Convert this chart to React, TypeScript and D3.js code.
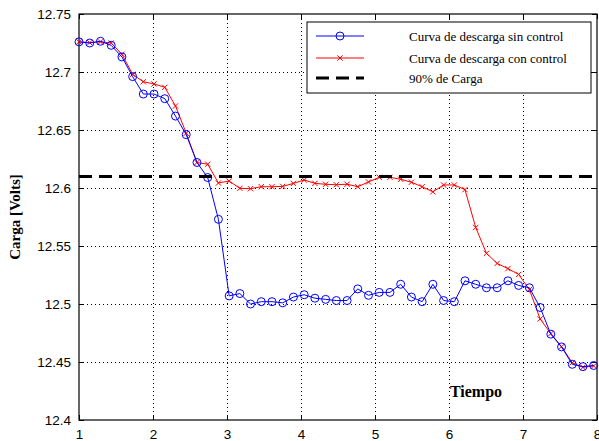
import React, { useEffect, useRef } from 'react';
import * as d3 from 'd3';

// tiempo de cada muestra
const tiempo = [
  1.0, 1.145, 1.29, 1.435, 1.58, 1.725, 1.869, 2.014, 2.159, 2.304,
  2.449, 2.594, 2.739, 2.884, 3.029, 3.174, 3.318, 3.463, 3.608, 3.753,
  3.898, 4.043, 4.188, 4.333, 4.478, 4.623, 4.767, 4.912, 5.057, 5.202,
  5.347, 5.492, 5.637, 5.782, 5.927, 6.072, 6.216, 6.361, 6.506, 6.651,
  6.796, 6.941, 7.086, 7.231, 7.376, 7.521, 7.666, 7.81, 7.955,
];

const sinControl = [
  12.726, 12.725, 12.7265, 12.723, 12.713, 12.696, 12.681, 12.681, 12.677, 12.662,
  12.646, 12.622, 12.609, 12.573, 12.507, 12.509, 12.5, 12.502, 12.502, 12.501,
  12.506, 12.508, 12.505, 12.504, 12.503, 12.503, 12.513, 12.5075, 12.51, 12.51,
  12.517, 12.506, 12.502, 12.517, 12.503, 12.502, 12.52, 12.517, 12.514, 12.514,
  12.52, 12.516, 12.514, 12.497, 12.474, 12.463, 12.448, 12.446, 12.447,
];

const conControl = [
  12.726, 12.7253, 12.726, 12.725, 12.7153, 12.698, 12.6916, 12.6897, 12.6868, 12.6707,
  12.6472, 12.622, 12.6205, 12.6043, 12.606, 12.5997, 12.5994, 12.6011, 12.6011, 12.6014,
  12.604, 12.6069, 12.604, 12.6032, 12.6028, 12.6033, 12.6011, 12.6052, 12.6092, 12.6092,
  12.6075, 12.605, 12.6011, 12.5967, 12.6026, 12.6026, 12.5986, 12.566, 12.5437, 12.535,
  12.5305, 12.5255, 12.5125, 12.4872, 12.4745, 12.4632, 12.4494, 12.4454, 12.4466,
];

const carga90 = 12.61;

const xTicks = [1, 2, 3, 4, 5, 6, 7, 8];
const yTicks = [12.4, 12.45, 12.5, 12.55, 12.6, 12.65, 12.7, 12.75];

const leyenda = [
  'Curva de descarga sin control',
  'Curva de descarga con control',
  '90% de Carga',
];

function App() {
  const ref = useRef<SVGSVGElement>(null);

  useEffect(() => {
    const width = 599;
    const height = 441;
    const margin = { top: 14, right: 2, bottom: 21, left: 79 };

    const x = d3.scaleLinear().domain([1, 8]).range([margin.left, width - margin.right]);
    const y = d3.scaleLinear().domain([12.4, 12.75]).range([height - margin.bottom, margin.top]);

    const svg = d3.select(ref.current);
    svg.selectAll('*').remove();

    svg.append('rect').attr('width', width).attr('height', height).attr('fill', '#fff');

    const [x0, x1] = x.range();
    const [y0, y1] = y.range();

    // rejilla punteada
    const grid = svg.append('g').attr('stroke', '#000').attr('stroke-width', 1).attr('stroke-dasharray', '1,3');
    grid.selectAll('line.gx')
      .data(xTicks.slice(1, -1))
      .join('line')
      .attr('x1', (d) => Math.round(x(d)) + 0.5).attr('x2', (d) => Math.round(x(d)) + 0.5)
      .attr('y1', y0).attr('y2', y1);
    grid.selectAll('line.gy')
      .data(yTicks.slice(1, -1))
      .join('line')
      .attr('class', 'gy')
      .attr('y1', (d) => Math.round(y(d)) + 0.5).attr('y2', (d) => Math.round(y(d)) + 0.5)
      .attr('x1', x0).attr('x2', x1);

    // ejes estilo matlab: ticks hacia adentro en los cuatro lados
    const fuenteEjes = (g: any) =>
      g.attr('font-family', 'Arial, "Liberation Sans", sans-serif').attr('font-size', 13.5);

    const axes = svg.append('g');
    axes.append('g')
      .attr('transform', `translate(0,${y0})`)
      .call(d3.axisBottom(x).tickValues(xTicks).tickFormat(d3.format('d')).tickSizeInner(-5).tickSizeOuter(0).tickPadding(9))
      .call(fuenteEjes)
      .call((g) => g.select('.domain').remove());
    axes.append('g')
      .attr('transform', `translate(0,${y1})`)
      .call(d3.axisTop(x).tickValues(xTicks).tickFormat(() => '').tickSizeInner(-5).tickSizeOuter(0))
      .call((g) => g.select('.domain').remove());
    axes.append('g')
      .attr('transform', `translate(${x0},0)`)
      .call(d3.axisLeft(y).tickValues(yTicks).tickFormat((d) => String(+d)).tickSizeInner(-5).tickSizeOuter(0).tickPadding(8))
      .call(fuenteEjes)
      .call((g) => g.select('.domain').remove());
    axes.append('g')
      .attr('transform', `translate(${x1},0)`)
      .call(d3.axisRight(y).tickValues(yTicks).tickFormat(() => '').tickSizeInner(-5).tickSizeOuter(0))
      .call((g) => g.select('.domain').remove());
    axes.selectAll('text').attr('fill', '#000');
    axes.selectAll('line').attr('stroke', '#000');

    svg.append('rect')
      .attr('x', x0).attr('y', y1)
      .attr('width', x1 - x0).attr('height', y0 - y1)
      .attr('fill', 'none').attr('stroke', '#000').attr('stroke-width', 1.2);

    const line = d3.line<number>().x((_, i) => x(tiempo[i])).y((d) => y(d));

    // curva con control (roja)
    svg.append('path')
      .datum(conControl)
      .attr('d', line)
      .attr('fill', 'none').attr('stroke', '#ff0000').attr('stroke-width', 1);
    const cruz = d3.symbol(d3.symbolX, 20);
    svg.append('g')
      .selectAll('path')
      .data(conControl)
      .join('path')
      .attr('transform', (d, i) => `translate(${x(tiempo[i])},${y(d)})`)
      .attr('d', cruz)
      .attr('fill', 'none').attr('stroke', '#ff0000').attr('stroke-width', 1);

    // curva sin control (azul)
    svg.append('path')
      .datum(sinControl)
      .attr('d', line)
      .attr('fill', 'none').attr('stroke', '#0000ff').attr('stroke-width', 1);
    svg.append('g')
      .selectAll('circle')
      .data(sinControl)
      .join('circle')
      .attr('cx', (d, i) => x(tiempo[i]))
      .attr('cy', (d) => y(d))
      .attr('r', 4)
      .attr('fill', 'none').attr('stroke', '#0000ff').attr('stroke-width', 1);

    // 90% de carga
    svg.append('line')
      .attr('x1', x0).attr('x2', x1)
      .attr('y1', y(carga90)).attr('y2', y(carga90))
      .attr('stroke', '#000').attr('stroke-width', 3).attr('stroke-dasharray', '13,7');

    // leyenda
    const lg = svg.append('g').attr('transform', 'translate(307,22)');
    lg.append('rect').attr('width', 284).attr('height', 71).attr('fill', '#fff').attr('stroke', '#000').attr('stroke-width', 1);
    const rowY = [14, 36, 56];
    const estilos = [
      { color: '#0000ff', width: 1, dash: null },
      { color: '#ff0000', width: 1, dash: null },
      { color: '#000', width: 3, dash: '13,7' },
    ];
    leyenda.forEach((t, i) => {
      const s = estilos[i];
      lg.append('line')
        .attr('x1', 9).attr('x2', 57).attr('y1', rowY[i]).attr('y2', rowY[i])
        .attr('stroke', s.color).attr('stroke-width', s.width)
        .attr('stroke-dasharray', s.dash);
      lg.append('text')
        .attr('x', 102).attr('y', rowY[i] + 4.5)
        .attr('font-family', '"Liberation Serif", "Times New Roman", serif')
        .attr('font-size', 13)
        .text(t);
    });
    lg.append('circle').attr('cx', 33).attr('cy', rowY[0]).attr('r', 4)
      .attr('fill', 'none').attr('stroke', '#0000ff');
    lg.append('path').attr('transform', `translate(33,${rowY[1]})`).attr('d', cruz)
      .attr('fill', 'none').attr('stroke', '#ff0000');

    // titulos de ejes
    svg.append('text')
      .attr('transform', `translate(20,${(y0 + y1) / 2}) rotate(-90)`)
      .attr('text-anchor', 'middle')
      .attr('font-family', '"Liberation Serif", "Times New Roman", serif')
      .attr('font-weight', 'bold').attr('font-size', 15)
      .text('Carga [Volts]');
    svg.append('text')
      .attr('x', 476).attr('y', 397)
      .attr('text-anchor', 'middle')
      .attr('font-family', '"Liberation Serif", "Times New Roman", serif')
      .attr('font-weight', 'bold').attr('font-size', 16)
      .text('Tiempo');
  }, []);

  return (
    <svg
      ref={ref}
      width={599}
      height={441}
      style={{ position: 'absolute', left: 0, top: 0, display: 'block' }}
    />
  );
}

export default App;
